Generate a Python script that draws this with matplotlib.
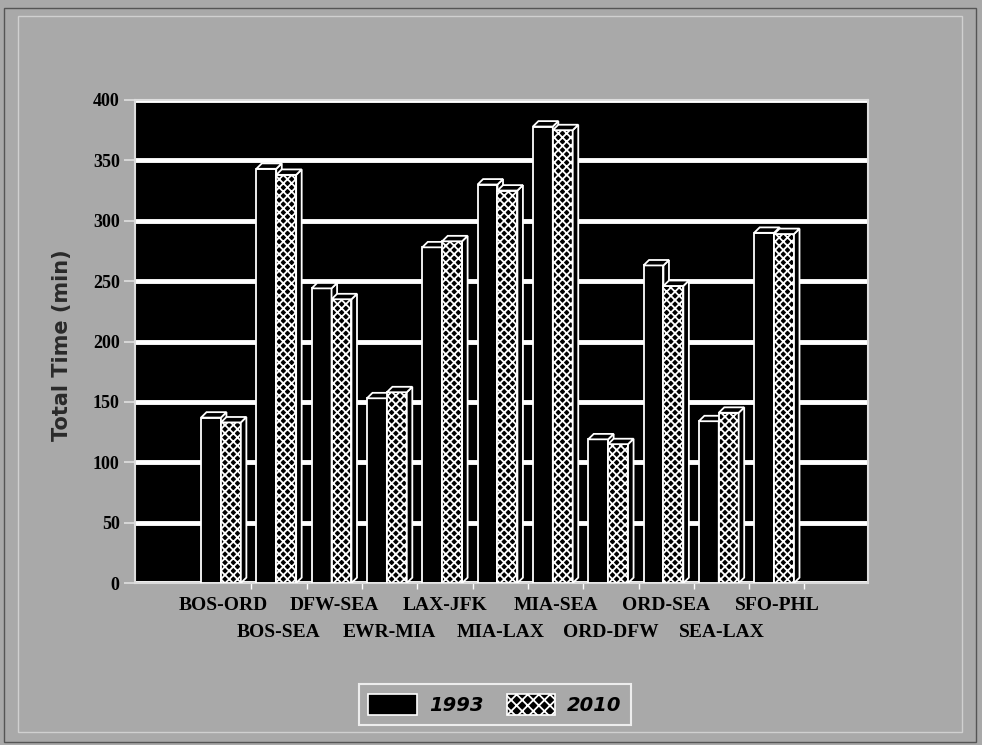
import numpy as np
import matplotlib.pyplot as plt
from matplotlib.patches import Polygon, Patch, Rectangle
from matplotlib.transforms import blended_transform_factory

routes = ['BOS-ORD', 'BOS-SEA', 'DFW-SEA', 'EWR-MIA', 'LAX-JFK', 'MIA-LAX',
          'MIA-SEA', 'ORD-DFW', 'ORD-SEA', 'SEA-LAX', 'SFO-PHL']
time_1993 = [137, 343, 244, 153, 278, 330, 378, 119, 263, 134, 290]
time_2010 = [133, 338, 235, 158, 283, 325, 375, 115, 246, 141, 289]
years = ['1993', '2010']

BG = '#a9a9a9'
plt.rcParams['hatch.linewidth'] = 1.3

fig = plt.figure(figsize=(9.82, 7.45), dpi=100, facecolor=BG)
ax = fig.add_axes([0.1375, 0.2174, 0.7465, 0.6484])
ax.set_facecolor('black')

x = np.arange(len(routes))
w = 0.36
dx, dy = 0.1, 4.5   # depth offset of the fake 3d faces


def bar3d(xpos, heights, hatch, z):
    bars = ax.bar(xpos, heights, w, color='black', edgecolor='white',
                  linewidth=1.3, hatch=hatch, zorder=z)
    for b in bars:
        x0 = b.get_x()
        x1 = x0 + b.get_width()
        h = b.get_height()
        top = Polygon([(x0, h), (x0 + dx, h + dy), (x1 + dx, h + dy), (x1, h)],
                      closed=True, fc='black', ec='white', lw=1.3, zorder=z)
        side = Polygon([(x1, 0), (x1, h), (x1 + dx, h + dy), (x1 + dx, dy)],
                       closed=True, fc='black', ec='white', lw=1.3, zorder=z)
        ax.add_patch(side)
        ax.add_patch(top)
    return bars


bar3d(x - w / 2, time_1993, None, 3)
bar3d(x + w / 2, time_2010, 'xxxx', 4)

ax.set_xlim(-1.553, 11.70)
ax.set_ylim(0, 400)
ax.set_yticks(np.arange(0, 401, 50))
ax.yaxis.grid(True, color='white', linewidth=3.5, zorder=1)
ax.set_axisbelow(True)
for lbl in ax.get_yticklabels():
    lbl.set_fontfamily('Liberation Serif')
    lbl.set_fontweight('bold')
    lbl.set_fontsize(13)
ax.tick_params(axis='y', length=8, width=1.2, color='#e0e0e0', pad=3)

# x labels are staggered on two rows
ax.set_xticks(x + 0.55)
ax.set_xticklabels([])
ax.tick_params(axis='x', length=4, width=1, color='white')
trans = blended_transform_factory(ax.transData, ax.transAxes)
for i, r in enumerate(routes):
    yrow = -0.047 if i % 2 == 0 else -0.103
    ax.text(i + 0.05, yrow, r, transform=trans, ha='center', va='center',
            fontfamily='Liberation Serif', fontweight='bold', fontsize=14)

for s in ax.spines.values():
    s.set_color('#dddddd')
    s.set_linewidth(1.5)

fig.text(0.063, 0.537, 'Total Time (min)', rotation=90, ha='center', va='center',
         fontsize=15, fontweight='bold', color='#2a2a2a')

handles = [Patch(fc='black', ec='white', lw=1.2),
           Patch(fc='black', ec='white', lw=1.2, hatch='xxx')]
leg = fig.legend(handles, years, loc='center', bbox_to_anchor=(0.504, 0.054),
                 ncol=2, frameon=True, fancybox=False, facecolor=BG, edgecolor='white',
                 prop=dict(weight='bold', style='italic', size=14),
                 handlelength=2.5, handleheight=1.3, columnspacing=1.2,
                 handletextpad=0.6, borderpad=0.5)
leg.get_frame().set_linewidth(1.5)

fig.patches.append(Rectangle((0.004, 0.004), 0.99, 0.985, transform=fig.transFigure,
                             fill=False, ec='#555555', lw=1))
fig.patches.append(Rectangle((0.018, 0.018), 0.962, 0.96, transform=fig.transFigure,
                             fill=False, ec='#d0d0d0', lw=1))

fig.savefig('out.png', dpi=100, facecolor=BG)
